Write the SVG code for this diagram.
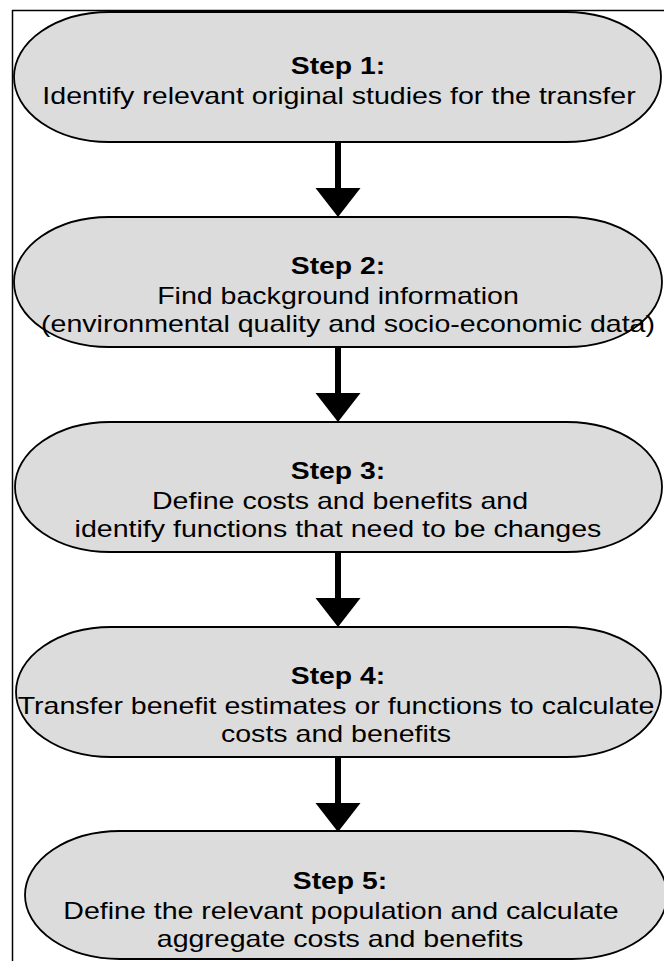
<svg xmlns="http://www.w3.org/2000/svg" width="664" height="961" viewBox="0 0 664 961">
<style>
.node{fill:#dcdcdc;stroke:#000;stroke-width:1.8}
.frame{stroke:#000;stroke-width:1.5;fill:none}
.t{font-family:"Liberation Sans",Arial,sans-serif;font-size:24px;fill:#000;text-anchor:middle}
.b{font-weight:bold}
.shaft{stroke:#000;stroke-width:6}
.head{fill:#000}
</style>
<g id="frame">
<line class="frame" x1="12" y1="10.5" x2="664" y2="10.5"/>
<line class="frame" x1="12.5" y1="10" x2="12.5" y2="961"/>
</g>
<g id="connectors">
<line class="shaft" x1="338" y1="142" x2="338" y2="190"/>
<polygon class="head" points="315.5,188 360.5,188 338,217"/>
<line class="shaft" x1="338" y1="347" x2="338" y2="395"/>
<polygon class="head" points="315.5,393 360.5,393 338,422"/>
<line class="shaft" x1="338" y1="552" x2="338" y2="600"/>
<polygon class="head" points="315.5,598 360.5,598 338,627"/>
<line class="shaft" x1="338" y1="757" x2="338" y2="805"/>
<polygon class="head" points="315.5,803 360.5,803 338,832"/>
</g>
<g id="step1">
<rect class="node" x="14" y="12" width="647" height="130" rx="95" ry="65"/>
<text class="t b" transform="translate(338,74) scale(1.18,1)">Step 1:</text>
<text class="t" transform="translate(339,104) scale(1.19,1)">Identify relevant original studies for the transfer</text>
</g>
<g id="step2">
<rect class="node" x="14" y="217" width="648" height="130" rx="95" ry="65"/>
<text class="t b" transform="translate(338,274) scale(1.18,1)">Step 2:</text>
<text class="t" transform="translate(338,304) scale(1.19,1)">Find background information</text>
<text class="t" transform="translate(348,332) scale(1.19,1)">(environmental quality and socio-economic data)</text>
</g>
<g id="step3">
<rect class="node" x="15" y="422" width="647" height="130" rx="95" ry="65"/>
<text class="t b" transform="translate(338,479) scale(1.18,1)">Step 3:</text>
<text class="t" transform="translate(340,509) scale(1.19,1)">Define costs and benefits and</text>
<text class="t" transform="translate(338,537) scale(1.19,1)">identify functions that need to be changes</text>
</g>
<g id="step4">
<rect class="node" x="16" y="627" width="645" height="130" rx="95" ry="65"/>
<text class="t b" transform="translate(338,684) scale(1.18,1)">Step 4:</text>
<text class="t" transform="translate(336,714) scale(1.19,1)">Transfer benefit estimates or functions to calculate</text>
<text class="t" transform="translate(336,742) scale(1.19,1)">costs and benefits</text>
</g>
<g id="step5">
<rect class="node" x="25" y="831" width="642" height="128" rx="95" ry="64"/>
<text class="t b" transform="translate(340,889) scale(1.18,1)">Step 5:</text>
<text class="t" transform="translate(341,919) scale(1.19,1)">Define the relevant population and calculate</text>
<text class="t" transform="translate(340,947) scale(1.19,1)">aggregate costs and benefits</text>
</g>
</svg>
